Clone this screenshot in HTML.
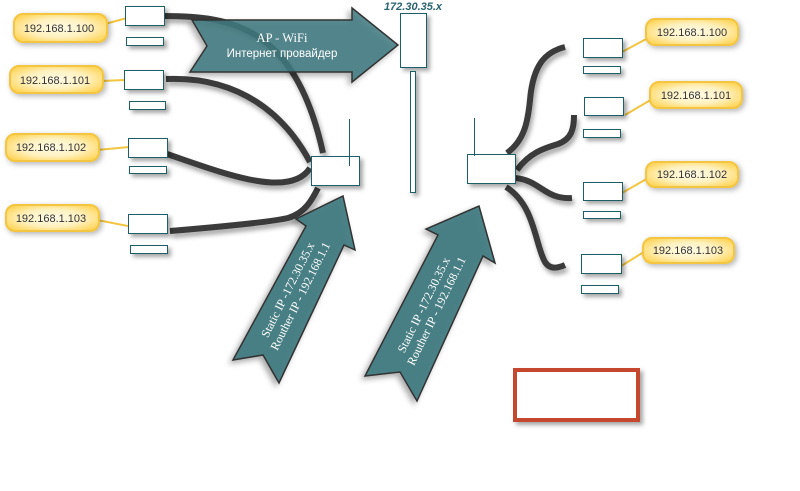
<!DOCTYPE html>
<html>
<head>
<meta charset="utf-8">
<style>
html,body{margin:0;padding:0;background:#fff;}
svg{display:block;}
</style>
</head>
<body>
<svg width="800" height="491" viewBox="0 0 800 491" xmlns="http://www.w3.org/2000/svg">
<defs>
  <filter id="bs" x="-30%" y="-30%" width="160%" height="160%">
    <feDropShadow dx="3" dy="3" stdDeviation="2" flood-color="#000" flood-opacity="0.35"/>
  </filter>
  <filter id="cs" x="-20%" y="-20%" width="140%" height="140%">
    <feDropShadow dx="2" dy="4" stdDeviation="2.5" flood-color="#000" flood-opacity="0.35"/>
  </filter>
  <filter id="as" x="-20%" y="-20%" width="140%" height="140%">
    <feDropShadow dx="-3" dy="3" stdDeviation="3" flood-color="#000" flood-opacity="0.35"/>
  </filter>
  <filter id="ys" x="-20%" y="-40%" width="140%" height="180%">
    <feDropShadow dx="2" dy="2" stdDeviation="3" flood-color="#000" flood-opacity="0.3"/>
  </filter>
  <radialGradient id="yg" cx="50%" cy="50%" r="60%">
    <stop offset="0" stop-color="#fffbe6"/>
    <stop offset="0.55" stop-color="#fff1bf"/>
    <stop offset="1" stop-color="#ffd55a"/>
  </radialGradient>
</defs>

<!-- cables -->
<g fill="none" stroke="#3b3b3b" stroke-width="6" stroke-linecap="butt" filter="url(#cs)">
  <path d="M164,16 C230,16 295,25 323,153"/>
  <path d="M166,79 C240,76 285,115 310,162"/>
  <path d="M167,154 C220,172 290,200 310,168"/>
  <path d="M170,231 C230,226 270,222 288,218 C305,213 312,200 318,188"/>
  <path d="M507,153 C525,140 528,120 530,100 C533,65 545,52 565,47"/>
  <path d="M517,170 C530,152 545,148 558,144 C572,139 574,128 574,115"/>
  <path d="M515,178 C540,180 545,200 572,198"/>
  <path d="M506,187 C535,205 535,245 545,262 C550,270 558,268 565,265"/>
</g>

<!-- arrows -->
<g filter="url(#as)">
  <polygon points="192,20 352,20 352,8 398,45 352,82 352,72 190,72 207,46" fill="#3f7a80" fill-opacity="0.85" stroke="#333" stroke-width="1.5" stroke-linejoin="miter"/>
  <polygon points="233,360 263,355 279,383 344,245 355,250 343,196 296,219 306,226" fill="#3f7a80" fill-opacity="0.93" stroke="#333" stroke-width="1.5"/>
  <polygon points="365,376 400,372 417,401 483,256 495,263 479,206 426,229 438,235" fill="#3f7a80" fill-opacity="0.93" stroke="#333" stroke-width="1.5"/>
</g>
<text x="282" y="42" text-anchor="middle" font-family="Liberation Serif, serif" font-size="12.5" fill="#fff">AP - WiFi</text>
<text x="282" y="57" text-anchor="middle" font-family="Liberation Sans, DejaVu Sans, sans-serif" font-size="11.5" fill="#fff">Интернет провайдер</text>

<g transform="translate(294,293) rotate(-63.4)" font-family="Liberation Serif, serif" font-size="12" fill="#fff" text-anchor="middle">
  <text x="0" y="-3">Static IP -172.30.35.x</text>
  <text x="0" y="11">Routher IP - 192.168.1.1</text>
</g>
<g transform="translate(430,308) rotate(-64)" font-family="Liberation Serif, serif" font-size="12" fill="#fff" text-anchor="middle">
  <text x="0" y="-3">Static IP -172.30.35.x</text>
  <text x="0" y="11">Routher IP - 192.168.1.1</text>
</g>

<!-- callout pointer lines -->
<g stroke="#f3c53f" stroke-width="2" fill="none">
  <line x1="105" y1="24" x2="127" y2="18"/>
  <line x1="101" y1="81" x2="125" y2="80"/>
  <line x1="97" y1="150" x2="130" y2="147"/>
  <line x1="97" y1="220" x2="133" y2="227"/>
  <line x1="622" y1="52" x2="650" y2="37"/>
  <line x1="625" y1="115" x2="654" y2="98"/>
  <line x1="622" y1="193" x2="650" y2="177"/>
  <line x1="618" y1="268" x2="647" y2="250"/>
</g>

<!-- callouts -->
<g filter="url(#ys)" fill="url(#yg)" stroke="#f3c53f" stroke-width="2">
  <rect x="14" y="14" width="93" height="28" rx="9"/>
  <rect x="10" y="66" width="93" height="27" rx="9"/>
  <rect x="6" y="134" width="93" height="27" rx="9"/>
  <rect x="6" y="205" width="93" height="26" rx="9"/>
  <rect x="646" y="19" width="92" height="26" rx="9"/>
  <rect x="650" y="82" width="92" height="26" rx="9"/>
  <rect x="646" y="162" width="92" height="25" rx="9"/>
  <rect x="643" y="238" width="91" height="25" rx="9"/>
</g>
<g font-family="Liberation Sans, Arial, sans-serif" font-size="11" fill="#333" text-anchor="middle">
  <text x="59" y="32">192.168.1.100</text>
  <text x="55" y="84">192.168.1.101</text>
  <text x="51" y="151">192.168.1.102</text>
  <text x="51" y="222">192.168.1.103</text>
  <text x="692" y="36">192.168.1.100</text>
  <text x="696" y="99">192.168.1.101</text>
  <text x="692" y="178">192.168.1.102</text>
  <text x="688" y="254">192.168.1.103</text>
</g>

<!-- boxes -->
<g fill="#fff" stroke="#1e5e66" stroke-width="1" filter="url(#bs)">
  <rect x="125.5" y="6.5" width="39" height="19"/>
  <rect x="126.5" y="37.5" width="37" height="8"/>
  <rect x="124.5" y="70.5" width="39" height="19"/>
  <rect x="129.5" y="101.5" width="36" height="8"/>
  <rect x="128.5" y="138.5" width="39" height="19"/>
  <rect x="129.5" y="166.5" width="37" height="7"/>
  <rect x="128.5" y="214.5" width="39" height="19"/>
  <rect x="130.5" y="245.5" width="37" height="8"/>

  <rect x="583.5" y="38.5" width="39" height="19"/>
  <rect x="583.5" y="66.5" width="37" height="7"/>
  <rect x="584.5" y="97.5" width="39" height="18"/>
  <rect x="583.5" y="129.5" width="37" height="8"/>
  <rect x="583.5" y="182.5" width="39" height="18"/>
  <rect x="583.5" y="211.5" width="37" height="7"/>
  <rect x="581.5" y="254.5" width="40" height="19"/>
  <rect x="581.5" y="285.5" width="37" height="8"/>

  <rect x="311.5" y="156.5" width="48" height="29"/>
  <rect x="467.5" y="154.5" width="48" height="29"/>
  <rect x="400.5" y="13.5" width="26" height="54"/>
  <rect x="410.5" y="71.5" width="5" height="121"/>
</g>
<g stroke="#1e5e66" stroke-width="1">
  <line x1="349.5" y1="119" x2="349.5" y2="166"/>
  <line x1="474.5" y1="118" x2="474.5" y2="156"/>
</g>
<text x="413" y="10" text-anchor="middle" font-family="Liberation Sans, Arial, sans-serif" font-size="11" font-weight="bold" font-style="italic" fill="#2a6470">172.30.35.x</text>

<!-- red rect -->
<rect x="515" y="370" width="123" height="50" fill="#fff" stroke="#c4472f" stroke-width="4" filter="url(#bs)"/>
</svg>
</body>
</html>
